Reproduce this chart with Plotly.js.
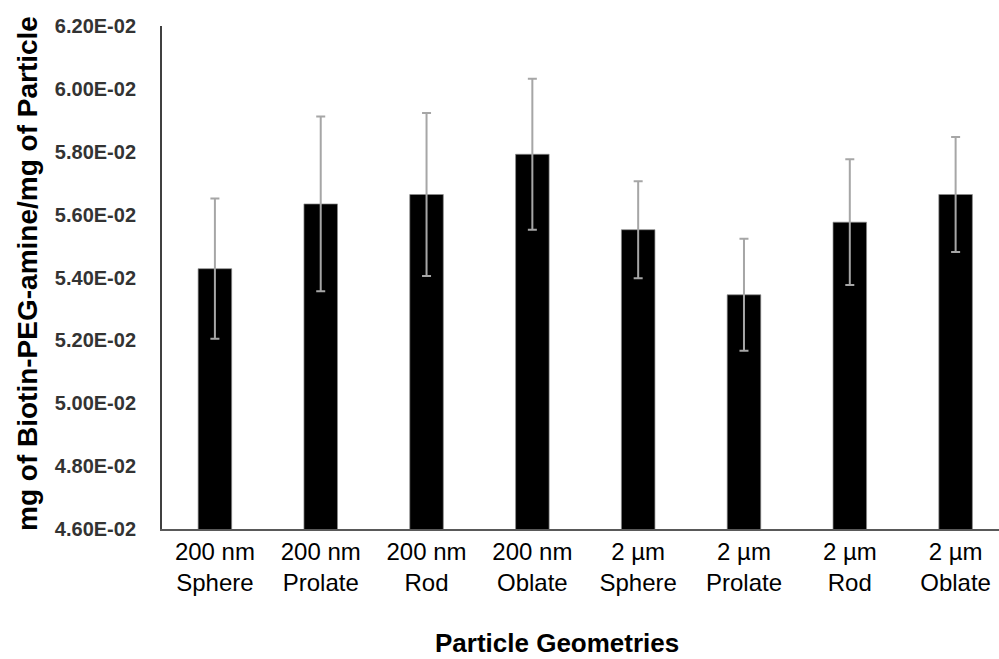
<!DOCTYPE html>
<html>
<head>
<meta charset="utf-8">
<script src="https://cdn.plot.ly/plotly-3.0.1.min.js"></script>
<style>html,body{margin:0;padding:0;background:#fff;overflow:hidden}#chart{width:999px;height:659px}</style>
</head>
<body>
<div id="chart"></div>
<script>
var categories = ["200 nm<br>Sphere", "200 nm<br>Prolate", "200 nm<br>Rod", "200 nm<br>Oblate",
                  "2 µm<br>Sphere", "2 µm<br>Prolate", "2 µm<br>Rod", "2 µm<br>Oblate"];
var meanValues = [0.05428, 0.05634, 0.05664, 0.05792, 0.05552, 0.05345, 0.05576, 0.05664];
var errorValues = [0.00223, 0.00278, 0.00259, 0.00240, 0.00154, 0.00178, 0.00200, 0.00183];
var yTickValues = [0.046, 0.048, 0.050, 0.052, 0.054, 0.056, 0.058, 0.060, 0.062];
var yTickLabels = ["4.60E-02", "4.80E-02", "5.00E-02", "5.20E-02", "5.40E-02", "5.60E-02", "5.80E-02", "6.00E-02", "6.20E-02"];
var yTitle = "mg of Biotin-PEG-amine/mg of Particle";
var xTitle = "Particle Geometries";

var trace = {
  type: "bar",
  x: categories,
  y: meanValues,
  marker: {color: "#000000", line: {color: "rgba(140,140,140,0.7)", width: 1}},
  error_y: {type: "data", array: errorValues, visible: true, color: "#a6a6a6", thickness: 2, width: 4.5},
  hoverinfo: "skip"
};

var layout = {
  width: 999, height: 659,
  margin: {l: 162, r: 0, t: 26, b: 130, pad: 0},
  paper_bgcolor: "#ffffff", plot_bgcolor: "#ffffff",
  showlegend: false,
  bargap: 0.683,
  xaxis: {
    type: "category",
    range: [-0.5, 7.41],
    showgrid: false, zeroline: false,
    showline: true, linecolor: "#595959", linewidth: 2,
    ticks: "",
    tickfont: {family: "Arial, Liberation Sans, sans-serif", size: 24, color: "#000000"},
    fixedrange: true
  },
  yaxis: {
    range: [0.046, 0.062],
    tickmode: "array", tickvals: yTickValues, ticktext: yTickLabels,
    showgrid: false, zeroline: false,
    showline: true, linecolor: "#404040", linewidth: 2,
    ticks: "",
    ticklabelstandoff: 20,
    tickfont: {family: "Liberation Sans Narrow, Arial Narrow, Arial, sans-serif", size: 20, color: "#333333", weight: "bold"},
    fixedrange: true
  },
  annotations: [
    {text: "<b>" + yTitle + "</b>", xref: "paper", yref: "paper",
     x: (27 - 162) / 837, y: (529.5 - 274.5) / 503, xanchor: "center", yanchor: "middle",
     textangle: -90, showarrow: false,
     font: {family: "Arial, Liberation Sans, sans-serif", size: 28, color: "#000000"}},
    {text: "<b>" + xTitle + "</b>", xref: "paper", yref: "paper",
     x: (557 - 162) / 837, y: (529.5 - 643) / 503, xanchor: "center", yanchor: "middle",
     showarrow: false,
     font: {family: "Arial, Liberation Sans, sans-serif", size: 26, color: "#000000"}}
  ]
};

Plotly.newPlot("chart", [trace], layout, {displayModeBar: false, staticPlot: true});
</script>
</body>
</html>
